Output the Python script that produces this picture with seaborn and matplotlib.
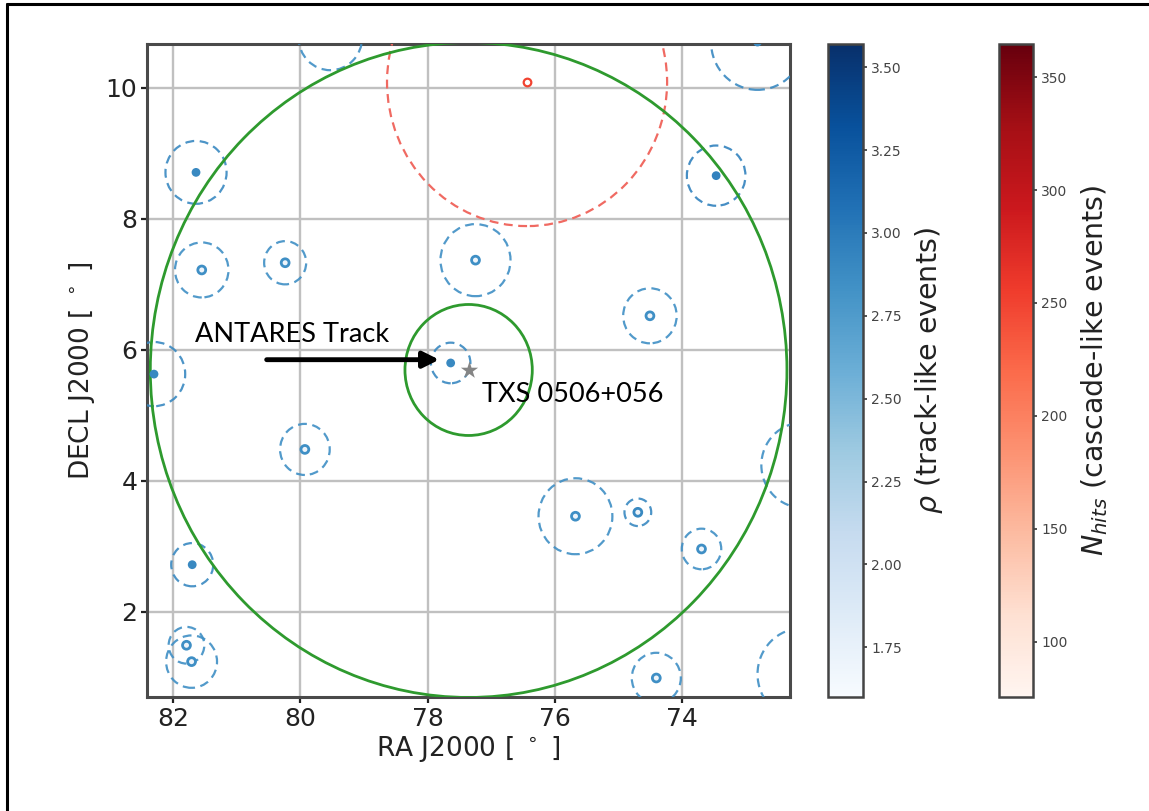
import numpy as np
import pandas as pd
import matplotlib
matplotlib.use("Agg")
import matplotlib.pyplot as plt
import matplotlib.colors as mcolors
from matplotlib.patches import Circle
from matplotlib.lines import Line2D
import seaborn as sns

# Track-like events: position, angular error radius, quality rho, marker style
track_ra = [79.53, 72.82, 81.64, 73.47, 81.55, 80.24, 77.25, 74.51, 77.64, 82.30,
            79.93, 75.68, 74.70, 73.70, 81.70, 81.79, 81.71, 74.41, 72.11, 72.12]
track_dec = [10.77, 10.70, 8.71, 8.66, 7.22, 7.33, 7.37, 6.52, 5.80, 5.63,
             4.48, 3.46, 3.52, 2.96, 2.72, 1.49, 1.24, 0.99, 4.24, 1.05]
track_err = [0.50, 0.73, 0.48, 0.46, 0.42, 0.33, 0.55, 0.42, 0.31, 0.49,
             0.39, 0.58, 0.21, 0.31, 0.33, 0.28, 0.40, 0.385, 0.65, 0.70]
track_rho = [2.85, 2.90, 2.90, 2.95, 2.85, 2.85, 2.85, 2.85, 2.90, 2.90,
             2.85, 2.85, 2.90, 2.85, 2.90, 2.85, 2.85, 2.85, 2.85, 2.85]
track_filled = [True, True, True, True, False, False, False, False, True, True,
                False, False, False, False, True, False, False, False, True, True]

# Cascade-like events
cascade_ra = [76.44]
cascade_dec = [10.09]
cascade_err = [2.2]
cascade_nhits = [250]

# Source and region-of-interest radii
src_name = "TXS 0506+056"
src_ra, src_dec = 77.358, 5.693
roi_radii = [1.0, 5.0]

rho_lim = (1.60, 3.57)
nhits_lim = (75.5, 364.7)
rho_ticks = [1.75, 2.00, 2.25, 2.50, 2.75, 3.00, 3.25, 3.50]
nhits_ticks = [100, 150, 200, 250, 300, 350]
ra_ticks = [82, 80, 78, 76, 74]
dec_ticks = [2, 4, 6, 8, 10]

tracks = pd.DataFrame({"ra": track_ra, "dec": track_dec, "err": track_err,
                       "rho": track_rho, "filled": track_filled})
cascades = pd.DataFrame({"ra": cascade_ra, "dec": cascade_dec,
                         "err": cascade_err, "nhits": cascade_nhits})

sns.set_style("whitegrid")
plt.rcParams["font.family"] = ["DejaVu Sans"]

W, H = 1149, 811
fig = plt.figure(figsize=(W / 100, H / 100), dpi=100)
ax = fig.add_axes([147 / W, 1 - 697 / H, 643 / W, 653 / H])
cax_b = fig.add_axes([828 / W, 1 - 697 / H, 35 / W, 653 / H])
cax_r = fig.add_axes([999 / W, 1 - 697 / H, 34 / W, 653 / H])

cmap_b = plt.get_cmap("Blues")
cmap_r = plt.get_cmap("Reds")
norm_b = mcolors.Normalize(*rho_lim)
norm_r = mcolors.Normalize(*nhits_lim)

# error circles of the track events
for _, row in tracks.iterrows():
    ax.add_patch(Circle((row.ra, row.dec), row.err, fill=False,
                        ec=cmap_b(norm_b(row.rho)), lw=1.6, alpha=0.9,
                        ls=(0, (4, 2.5)), zorder=3))

filled = tracks[tracks.filled]
rings = tracks[~tracks.filled]
sns.scatterplot(data=filled, x="ra", y="dec", hue="rho", palette="Blues",
                hue_norm=norm_b, s=40, linewidth=0, legend=False, ax=ax,
                zorder=4)
sns.scatterplot(data=rings, x="ra", y="dec", facecolor="#eef4fa",
                edgecolor=[cmap_b(norm_b(v)) for v in rings.rho],
                s=32, linewidth=2.0, legend=False, ax=ax, zorder=4)

# cascade events
for _, row in cascades.iterrows():
    ax.add_patch(Circle((row.ra, row.dec), row.err, fill=False,
                        ec="#f06a62", lw=1.6, ls=(0, (4, 2.5)), zorder=3))
sns.scatterplot(data=cascades, x="ra", y="dec", facecolor="white",
                edgecolor=[cmap_r(norm_r(v)) for v in cascades.nhits],
                s=30, linewidth=1.6, legend=False, ax=ax, zorder=4)

# regions around the source
for r in roi_radii:
    ax.add_patch(Circle((src_ra, src_dec), r, fill=False, ec="#2e9a2e",
                        lw=2.0, zorder=3))
sns.scatterplot(x=[src_ra], y=[src_dec], marker="*", s=170, color="#858585",
                linewidth=0, legend=False, ax=ax, zorder=5)

ax.annotate("", xy=(77.82, 5.85), xytext=(80.53, 5.85),
            arrowprops=dict(arrowstyle="-|>", color="black", lw=3.5,
                            mutation_scale=24, shrinkA=0, shrinkB=0),
            zorder=6)
ax.text(81.65, 6.12, "ANTARES Track", fontfamily=["Lato", "DejaVu Sans"],
        fontsize=19.5, va="baseline", ha="left", color="black", zorder=6)
ax.text(77.15, 5.21, src_name, fontfamily=["Lato", "DejaVu Sans"],
        fontsize=19.5, va="baseline", ha="left", color="black", zorder=6)

ax.set_xlim(82.41, 72.31)
ax.set_ylim(0.70, 10.67)
ax.set_xticks(ra_ticks)
ax.set_yticks(dec_ticks)
ax.grid(True, color="#c0c0c0", lw=1.7)
ax.set_axisbelow(True)
for sp in ax.spines.values():
    sp.set_color("#4a4a4a")
    sp.set_linewidth(2.2)
ax.tick_params(axis="both", which="major", direction="out", length=4,
               width=1.6, color="#222222", labelsize=18, labelcolor="#222222",
               left=True, bottom=True, pad=3)
ax.set_xlabel("RA J2000 [ $^\\circ$ ]", fontsize=19, color="#222222", labelpad=2)
ax.set_ylabel("DECL J2000 [ $^\\circ$ ]", fontsize=19, color="#222222", labelpad=6)

# colour bars
for cax, cmap, norm, ticks, fmt, label in [
        (cax_b, cmap_b, norm_b, rho_ticks, "{:.2f}", r"$\rho$ (track-like events)"),
        (cax_r, cmap_r, norm_r, nhits_ticks, "{:.0f}", r"$N_{hits}$ (cascade-like events)")]:
    sm = matplotlib.cm.ScalarMappable(norm=norm, cmap=cmap)
    cb = fig.colorbar(sm, cax=cax)
    cb.set_ticks(ticks)
    cb.set_ticklabels([fmt.format(t) for t in ticks])
    cb.outline.set_edgecolor("#444444")
    cb.outline.set_linewidth(1.8)
    cax.tick_params(labelsize=10, labelcolor="#444444", length=3, width=1.2,
                    color="#333333", right=True, direction="out", pad=3)
    cb.set_label(label, fontsize=20.5, color="#222222", labelpad=8)

# page frame
fig.add_artist(Line2D([7 / W, 1], [1 - 4 / H, 1 - 4 / H],
                      transform=fig.transFigure, color="black", lw=2.2))
fig.add_artist(Line2D([7 / W, 7 / W], [0, 1 - 4 / H],
                      transform=fig.transFigure, color="black", lw=2.2))

fig.savefig("out.png", dpi=100, facecolor="white")
